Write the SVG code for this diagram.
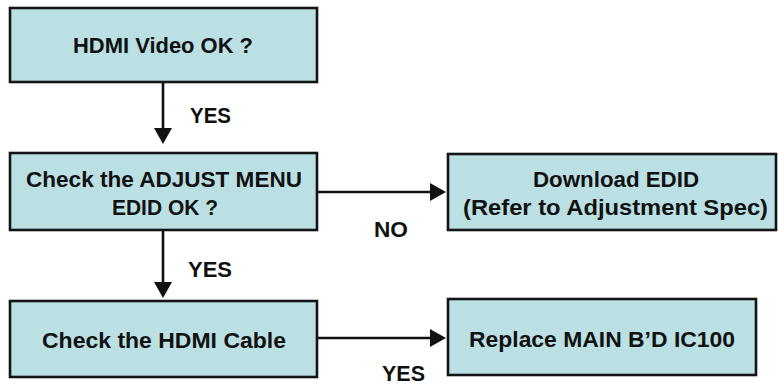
<svg xmlns="http://www.w3.org/2000/svg" width="778" height="385" viewBox="0 0 778 385">
<style>
.box{fill:#BAE0E4;stroke:#141414;stroke-width:2.6}
.t{font-family:"Liberation Sans",Arial,sans-serif;font-weight:bold;font-size:22.5px;fill:#111;text-anchor:middle}
.c{stroke:#111;stroke-width:2.6;fill:none;marker-end:url(#ah)}
</style>
<defs>
<marker id="ah" viewBox="0 0 16 18" refX="12" refY="9" markerWidth="16" markerHeight="18" markerUnits="userSpaceOnUse" orient="auto">
<path d="M0,0 L16,9 L0,18 z" fill="#111"/>
</marker>
</defs>
<rect width="778" height="385" fill="#fff"/>
<g id="connectors">
<line class="c" x1="163" y1="82" x2="163" y2="140"/>
<line class="c" x1="163" y1="230" x2="163" y2="294"/>
<line class="c" x1="318" y1="192" x2="442" y2="192"/>
<line class="c" x1="318" y1="338" x2="442" y2="338"/>
<text class="t" x="210.5" y="123" textLength="41" lengthAdjust="spacingAndGlyphs">YES</text>
<text class="t" x="210" y="276.5" textLength="44" lengthAdjust="spacingAndGlyphs">YES</text>
<text class="t" x="391" y="236.5" textLength="34" lengthAdjust="spacingAndGlyphs">NO</text>
<text class="t" x="403.5" y="381" textLength="43" lengthAdjust="spacingAndGlyphs">YES</text>
</g>
<g id="n1">
<rect class="box" x="10" y="8" width="307" height="74"/>
<text class="t" x="163" y="53" textLength="180" lengthAdjust="spacingAndGlyphs">HDMI Video OK ?</text>
</g>
<g id="n2">
<rect class="box" x="10" y="153" width="307" height="77"/>
<text class="t" x="164" y="186.5" textLength="276" lengthAdjust="spacingAndGlyphs">Check the ADJUST MENU</text>
<text class="t" x="165" y="215" textLength="106" lengthAdjust="spacingAndGlyphs">EDID OK ?</text>
</g>
<g id="n3">
<rect class="box" x="10" y="301" width="307" height="76"/>
<text class="t" x="164" y="348" textLength="244" lengthAdjust="spacingAndGlyphs">Check the HDMI Cable</text>
</g>
<g id="n4">
<rect class="box" x="448" y="154" width="328" height="76"/>
<text class="t" x="616" y="186.5" textLength="166" lengthAdjust="spacingAndGlyphs">Download EDID</text>
<text class="t" x="615.5" y="215" textLength="305" lengthAdjust="spacingAndGlyphs">(Refer to Adjustment Spec)</text>
</g>
<g id="n5">
<rect class="box" x="448" y="299" width="308" height="76"/>
<text class="t" x="602" y="347" textLength="266" lengthAdjust="spacingAndGlyphs">Replace MAIN B’D IC100</text>
</g>
</svg>
